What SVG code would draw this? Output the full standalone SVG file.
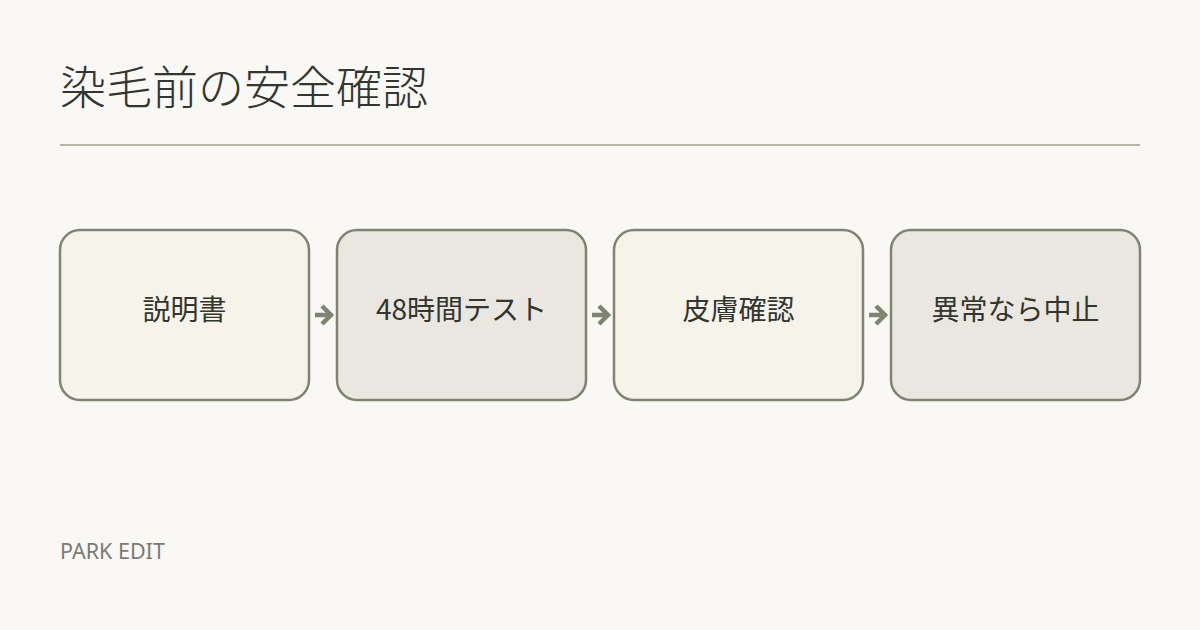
<svg xmlns="http://www.w3.org/2000/svg" width="1200" height="630" viewBox="0 0 1200 630">
<defs>
<style>
.box{stroke:#7f8472;stroke-width:2.5}
.a{fill:#f5f3ea}
.b{fill:#e9e7df}
.lbl{font-family:"Noto Sans CJK JP","Noto Sans",sans-serif;font-size:28px;fill:#33352f;text-anchor:middle}
.conn{stroke:#7f8472;stroke-width:4.5;fill:none}
</style>
</defs>
<rect width="1200" height="630" fill="#f9f8f4"/>
<text x="60" y="104" font-family="'Liberation Serif','Noto Sans CJK JP',serif" font-size="46" font-weight="300" fill="#33352f">染毛前の安全確認</text>
<line x1="60" y1="145" x2="1140" y2="145" stroke="#b6b6a6" stroke-width="2"/>
<g id="connectors">
<g><line class="conn" x1="315" y1="315" x2="331" y2="315"/><path class="conn" d="M322 306 L331 315 L322 324"/></g>
<g><line class="conn" x1="592" y1="315" x2="608" y2="315"/><path class="conn" d="M599 306 L608 315 L599 324"/></g>
<g><line class="conn" x1="869" y1="315" x2="885" y2="315"/><path class="conn" d="M876 306 L885 315 L876 324"/></g>
</g>
<g id="n1"><rect class="box a" x="60" y="230" width="249" height="170" rx="20"/><text class="lbl" x="184.5" y="320">説明書</text></g>
<g id="n2"><rect class="box b" x="337" y="230" width="249" height="170" rx="20"/><text class="lbl" x="461.5" y="320">48時間テスト</text></g>
<g id="n3"><rect class="box a" x="614" y="230" width="249" height="170" rx="20"/><text class="lbl" x="738.5" y="320">皮膚確認</text></g>
<g id="n4"><rect class="box b" x="891" y="230" width="249" height="170" rx="20"/><text class="lbl" x="1015.5" y="320">異常なら中止</text></g>
<text x="60" y="559" font-family="'Noto Sans','Liberation Sans',sans-serif" font-size="21.5" fill="#7a7b73">PARK EDIT</text>
</svg>
